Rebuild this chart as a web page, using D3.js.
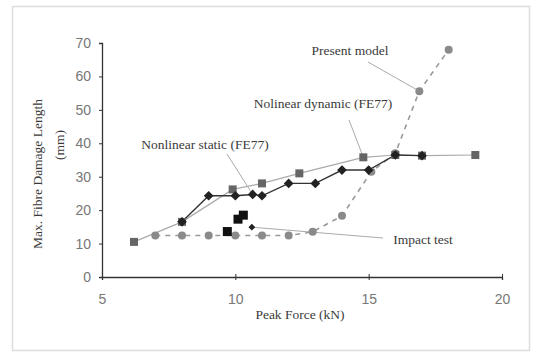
<!DOCTYPE html>
<html>
<head>
<meta charset="utf-8">
<script src="https://cdn.jsdelivr.net/npm/d3@7"></script>
<style>
  html, body { margin: 0; padding: 0; background: #fff; }
  svg { display: block; }
  .tick-label { font-family: "Liberation Sans", Arial, sans-serif; font-size: 14px; fill: #777; }
  .serif { font-family: "Liberation Serif", "Times New Roman", serif; font-size: 13.5px; fill: #3a3a3a; }
</style>
</head>
<body>
<div id="chart"></div>
<script>
// Peak force (kN) vs max. fibre damage length (mm)
const dynamicFE77 = [
  [6.2, 10.5], [8, 16.5], [9.9, 26.2], [11, 28], [12.4, 31],
  [14.8, 35.8], [16, 36.5], [17, 36.3], [19, 36.5],
];
const staticFE77 = [
  [8, 16.5], [9, 24.3], [10, 24.3], [10.65, 24.7], [11, 24.3],
  [12, 28], [13, 28], [14, 32], [15, 32], [16, 36.5], [17, 36.3],
];
const presentModel = [
  [7, 12.4], [8, 12.4], [9, 12.4], [10, 12.4], [11, 12.4], [12, 12.4],
  [12.9, 13.5], [14, 18.3], [15.1, 31.5], [16, 37], [16.9, 55.6], [18, 68],
];
const impactTest = [[9.7, 13.6], [10.1, 17.3], [10.3, 18.5]];

const xTicks = [5, 10, 15, 20];
const yTicks = [0, 10, 20, 30, 40, 50, 60, 70];

// callouts: text, text position (px), leader start (px), leader target (data)
const callouts = [
  { text: 'Present model', tx: 350, ty: 55, from: [368, 62], to: [16.9, 55.6] },
  { text: 'Nolinear dynamic (FE77)', tx: 323, ty: 108, from: [349, 120], to: [14.8, 35.8] },
  { text: 'Nonlinear static (FE77)', tx: 205, ty: 149, from: [227, 154], to: [10.65, 24.7] },
  { text: 'Impact test', tx: 423, ty: 244, from: [383, 238], to: [10.62, 14.9] },
];

const width = 537;
const height = 352;

const x = d3.scaleLinear().domain([5, 20]).range([102, 502]);
const y = d3.scaleLinear().domain([0, 70]).range([277, 43]);

const svg = d3.select('#chart').append('svg')
  .attr('width', width).attr('height', height);

// frame
svg.append('rect')
  .attr('x', 12.5).attr('y', 6.5).attr('width', 517).attr('height', 344)
  .attr('fill', 'none').attr('stroke', '#ddd').attr('stroke-width', 1.5);

// axes
const xAxis = d3.axisBottom(x).tickValues(xTicks).tickSize(3).tickPadding(14);
const gx = svg.append('g').attr('transform', `translate(0,${y(0)})`).call(xAxis);
gx.select('.domain').attr('stroke', '#333').attr('stroke-width', 1.3);
gx.selectAll('.tick line').attr('stroke', '#333').attr('y1', -3);
gx.selectAll('.tick text').attr('class', 'tick-label');

const yAxis = d3.axisLeft(y).tickValues(yTicks).tickSize(3).tickPadding(8);
const gy = svg.append('g').attr('transform', `translate(${x(5)},0)`).call(yAxis);
gy.select('.domain').attr('stroke', '#333').attr('stroke-width', 1.3);
gy.selectAll('.tick line').attr('stroke', '#333');
gy.selectAll('.tick text').attr('class', 'tick-label');

// axis titles
svg.append('text').attr('class', 'serif')
  .attr('x', 300).attr('y', 319).attr('text-anchor', 'middle')
  .text('Peak Force (kN)');

svg.append('text').attr('class', 'serif')
  .attr('transform', 'translate(42,174) rotate(-90)')
  .attr('text-anchor', 'middle')
  .text('Max. Fibre Damage Length');
svg.append('text').attr('class', 'serif')
  .attr('transform', 'translate(64,145) rotate(-90)')
  .attr('text-anchor', 'middle')
  .text('(mm)');

const line = d3.line().x((d) => x(d[0])).y((d) => y(d[1]));

// lines
svg.append('path').datum(dynamicFE77).attr('d', line)
  .attr('fill', 'none').attr('stroke', '#aaa').attr('stroke-width', 1.2);
svg.append('path').datum(presentModel).attr('d', line)
  .attr('fill', 'none').attr('stroke', '#999').attr('stroke-width', 1.6)
  .attr('stroke-dasharray', '5,5');
svg.append('path').datum(staticFE77).attr('d', line)
  .attr('fill', 'none').attr('stroke', '#333').attr('stroke-width', 1.4);

// callout leaders
svg.selectAll('line.leader').data(callouts).join('line')
  .attr('class', 'leader')
  .attr('x1', (d) => d.from[0]).attr('y1', (d) => d.from[1])
  .attr('x2', (d) => x(d.to[0])).attr('y2', (d) => y(d.to[1]))
  .attr('stroke', '#aaa').attr('stroke-width', 1);

// markers
svg.selectAll('circle.present').data(presentModel).join('circle')
  .attr('class', 'present')
  .attr('cx', (d) => x(d[0])).attr('cy', (d) => y(d[1]))
  .attr('r', 4).attr('fill', '#8a8a8a');

svg.selectAll('rect.dynamic').data(dynamicFE77).join('rect')
  .attr('class', 'dynamic')
  .attr('x', (d) => x(d[0]) - 4).attr('y', (d) => y(d[1]) - 4)
  .attr('width', 8).attr('height', 8).attr('fill', '#666');

const diamond = d3.symbol().type(d3.symbolDiamond2).size(60);
svg.selectAll('path.static').data(staticFE77).join('path')
  .attr('class', 'static')
  .attr('transform', (d) => `translate(${x(d[0])},${y(d[1])})`)
  .attr('d', diamond).attr('fill', '#222');

svg.selectAll('rect.impact').data(impactTest).join('rect')
  .attr('class', 'impact')
  .attr('x', (d) => x(d[0]) - 4.5).attr('y', (d) => y(d[1]) - 4.5)
  .attr('width', 9).attr('height', 9).attr('fill', '#111');

// small tip on the impact test leader
const tip = callouts[3].to;
svg.append('path')
  .attr('transform', `translate(${x(tip[0])},${y(tip[1])})`)
  .attr('d', d3.symbol().type(d3.symbolDiamond2).size(30)).attr('fill', '#222');

// callout texts
svg.selectAll('text.callout').data(callouts).join('text')
  .attr('class', 'serif callout')
  .attr('x', (d) => d.tx).attr('y', (d) => d.ty)
  .attr('text-anchor', 'middle')
  .text((d) => d.text);
</script>
</body>
</html>
